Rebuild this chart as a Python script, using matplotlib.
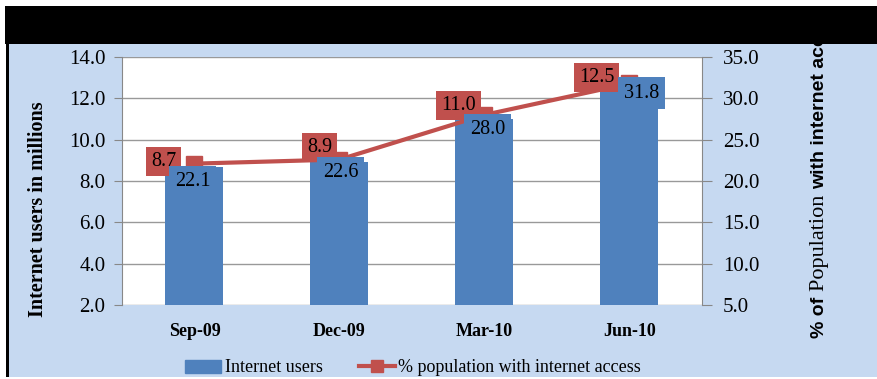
import matplotlib
matplotlib.use("Agg")
import matplotlib.pyplot as plt
from matplotlib.patches import Rectangle
import numpy as np

# data
quarters = ["Sep-09", "Dec-09", "Mar-10", "Jun-10"]
users_millions = [8.7, 8.9, 11.0, 12.5]
pct_population = [22.1, 22.6, 28.0, 31.8]

BLUE = "#4F81BD"
RED = "#C0504D"
BG = "#C6D9F1"
SERIF = "Liberation Serif"
SANS = "Liberation Sans"

W, H = 878, 379
fig = plt.figure(figsize=(W / 100, H / 100), dpi=100, facecolor="white")


def px_box(x0, y0, x1, y1):
    # pixel box (top-left origin) -> figure fraction rect
    return (x0 / W, 1 - y1 / H, (x1 - x0) / W, (y1 - y0) / H)


def fig_rect(x0, y0, x1, y1, color, z):
    l, b, w, h = px_box(x0, y0, x1, y1)
    fig.add_artist(Rectangle((l, b), w, h, transform=fig.transFigure,
                             facecolor=color, edgecolor="none", zorder=z))


# blue chart area, black left edge, black title band, white strip above it
fig_rect(9, 44, W, 377, BG, -5)
fig_rect(6, 44, 9, 377, "black", -4)
fig_rect(5, 6, W, 44, "black", 20)
fig_rect(0, 0, W, 6, "white", 21)

ax = fig.add_axes(px_box(122, 57, 702, 305))
ax.set_facecolor("white")
x = np.arange(len(quarters))
ax.bar(x, users_millions, width=0.4, color=BLUE, zorder=2)
ax.set_xlim(-0.5, len(quarters) - 0.5)
ax.set_ylim(2, 14)
left_ticks = np.arange(2, 14.1, 2)
ax.set_yticks(left_ticks)
ax.set_yticklabels([f"{v:.1f}" for v in left_ticks], family=SERIF, fontsize=15)
ax.set_xticks(x)
ax.set_xticklabels(quarters, family=SERIF, fontsize=13, fontweight="bold")
ax.tick_params(axis="x", length=0, pad=13)
ax.tick_params(axis="y", length=6, color="#888888", pad=6)
ax.yaxis.grid(True, color="#999999", linewidth=1, zorder=0)
ax.set_axisbelow(True)
for s in ["top", "right", "bottom"]:
    ax.spines[s].set_visible(False)
ax.spines["left"].set_color("#888888")

ax2 = ax.twinx()
ax2.plot(x, pct_population, color=RED, linewidth=3, marker="s", markersize=11, zorder=3)
ax2.set_ylim(5, 35)
right_ticks = np.arange(5, 35.1, 5)
ax2.set_yticks(right_ticks)
ax2.set_yticklabels([f"{v:.1f}" for v in right_ticks], family=SERIF, fontsize=15)
ax2.tick_params(axis="y", length=7, color="#888888", pad=8)
for s in ["top", "left", "bottom"]:
    ax2.spines[s].set_visible(False)
ax2.spines["right"].set_color("#888888")

# labels: user counts in red boxes beside the markers
red_off = [(-31, 2), (-20, 12), (-26, 9), (-33, 6)]
for xi, u, p, off in zip(x, users_millions, pct_population, red_off):
    ax2.annotate(f"{u:.1f}", (xi, p), xytext=off, textcoords="offset pixels",
                 ha="center", va="center", family=SERIF, fontsize=14.5, zorder=10,
                 bbox=dict(boxstyle="square,pad=0.25", facecolor=RED, edgecolor="none"))

# labels: population share in blue boxes at the bar tops (drawn on ax2 so they sit over the line)
blue_off = [(-2, -15), (1, -10), (3, -11), (12, -5)]
for xi, u, p, off in zip(x, users_millions, pct_population, blue_off):
    ax2.annotate(f"{p:.1f}", (xi, u), xycoords=ax.transData, xytext=off,
                 textcoords="offset pixels", ha="center", va="center",
                 family=SERIF, fontsize=14.5, zorder=11,
                 bbox=dict(boxstyle="square,pad=0.3", facecolor=BLUE, edgecolor="none"))

# legend
handles = [plt.Rectangle((0, 0), 1, 1, color=BLUE),
           plt.Line2D([], [], color=RED, linewidth=3, marker="s", markersize=9)]
fig.legend(handles, ["Internet users", "% population with internet access"],
           loc="center", bbox_to_anchor=(413 / W, 1 - 368 / H), ncol=2, frameon=False,
           prop={"family": SERIF, "size": 13}, handlelength=2.0, handletextpad=0.2,
           columnspacing=2.0)

# left axis title
fig.text(38 / W, 1 - 209 / H, "Internet users in millions", rotation=90,
         ha="center", va="center", family=SERIF, fontsize=14.5, fontweight="bold")

# right axis title in mixed fonts, running up under the black band
renderer = fig.canvas.get_renderer()
pieces = [("% of ", SANS, "bold", 14), ("Population ", SERIF, "normal", 16),
          ("with internet access", SANS, "bold", 14)]
ycur = 1 - 338 / H
for txt, fam, wt, sz in pieces:
    t = fig.text(820 / W, ycur, txt, rotation=90, ha="center", va="bottom",
                 family=fam, fontweight=wt, fontsize=sz, zorder=5)
    bb = t.get_window_extent(renderer)
    ycur += bb.height / H

fig.savefig("out.png", dpi=100, facecolor="white")
